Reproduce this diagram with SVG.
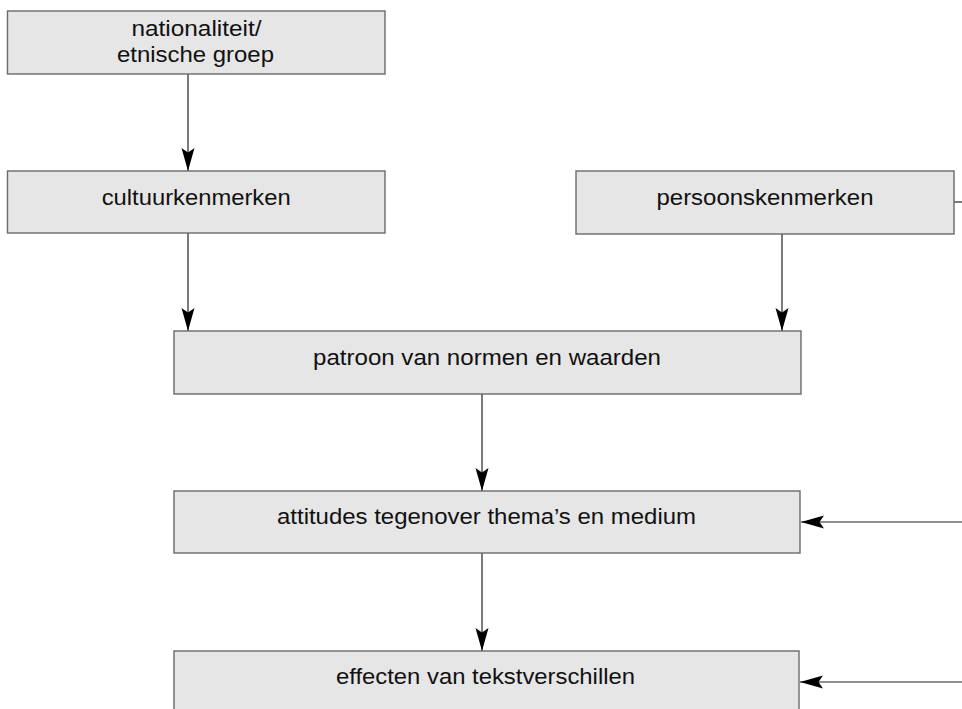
<svg xmlns="http://www.w3.org/2000/svg" width="962" height="709" viewBox="0 0 962 709">
<style>
.box{fill:#e6e6e6;stroke:#6a6a6a;stroke-width:1.4}
.lbl{font-family:"Liberation Sans",Arial,Helvetica,sans-serif;font-size:22px;fill:#111;text-anchor:middle}
.con{stroke:#222;stroke-width:1.2;fill:none}
</style>
<defs>
<marker id="ah" markerUnits="userSpaceOnUse" markerWidth="26" markerHeight="16" viewBox="-24 -8 26 16" refX="0" refY="0" orient="auto">
<path d="M0,0 L-23,-6.5 L-18.5,0 L-23,6.5 Z" fill="#000"/>
</marker>
</defs>
<rect width="962" height="709" fill="#fff"/>
<g id="connectors">
<line class="con" x1="188" y1="74" x2="188" y2="171" marker-end="url(#ah)"/>
<line class="con" x1="188" y1="233" x2="188" y2="331" marker-end="url(#ah)"/>
<line class="con" x1="782" y1="234" x2="782" y2="331" marker-end="url(#ah)"/>
<line class="con" x1="954" y1="202" x2="962" y2="202"/>
<line class="con" x1="482" y1="394" x2="482" y2="491" marker-end="url(#ah)"/>
<line class="con" x1="482" y1="553" x2="482" y2="651" marker-end="url(#ah)"/>
<line class="con" x1="962" y1="522" x2="801" y2="522" marker-end="url(#ah)"/>
<line class="con" x1="962" y1="682" x2="800" y2="682" marker-end="url(#ah)"/>
</g>
<g id="nationaliteit">
<rect class="box" x="7.5" y="11" width="377.5" height="63"/>
<text class="lbl" x="196.5" y="36" textLength="130" lengthAdjust="spacingAndGlyphs">nationaliteit/</text>
<text class="lbl" x="195.5" y="62" textLength="157" lengthAdjust="spacingAndGlyphs">etnische groep</text>
</g>
<g id="cultuurkenmerken">
<rect class="box" x="7.5" y="171" width="377.5" height="62"/>
<text class="lbl" x="196.2" y="205" textLength="189" lengthAdjust="spacingAndGlyphs">cultuurkenmerken</text>
</g>
<g id="persoonskenmerken">
<rect class="box" x="576" y="171" width="378" height="63"/>
<text class="lbl" x="765" y="205" textLength="217" lengthAdjust="spacingAndGlyphs">persoonskenmerken</text>
</g>
<g id="patroon">
<rect class="box" x="174" y="331" width="627" height="63"/>
<text class="lbl" x="487" y="365" textLength="348" lengthAdjust="spacingAndGlyphs">patroon van normen en waarden</text>
</g>
<g id="attitudes">
<rect class="box" x="174" y="491" width="626" height="62"/>
<text class="lbl" x="486.5" y="524" textLength="419" lengthAdjust="spacingAndGlyphs">attitudes tegenover thema’s en medium</text>
</g>
<g id="effecten">
<rect class="box" x="174" y="651" width="625" height="64"/>
<text class="lbl" x="485.5" y="684" textLength="299" lengthAdjust="spacingAndGlyphs">effecten van tekstverschillen</text>
</g>
</svg>
